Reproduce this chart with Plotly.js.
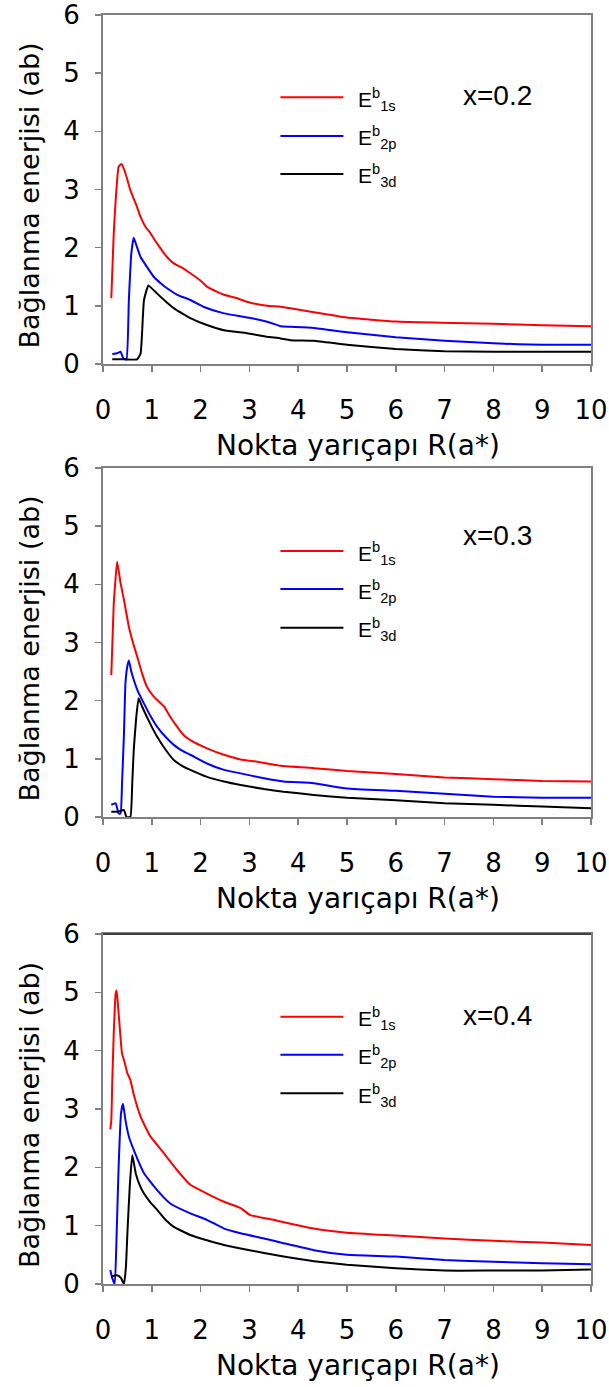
<!DOCTYPE html>
<html>
<head>
<meta charset="utf-8">
<script src="https://cdn.plot.ly/plotly-3.0.1.min.js"></script>
<style>
  html, body { margin: 0; padding: 0; background: #fff; }
  #chart { width: 609px; height: 1387px; }
</style>
</head>
<body>
<div id="chart"></div>
<script>
// Binding energies of 1s, 2p and 3d states versus dot radius R (a*), three compositions x.

const panelLabels = ['x=0.2', 'x=0.3', 'x=0.4'];
const seriesNames = ['E<sup>b</sup><sub>1s</sub>', 'E<sup>b</sup><sub>2p</sub>', 'E<sup>b</sup><sub>3d</sub>'];
const seriesColors = ['#ff0000', '#0000ff', '#000000'];
const xTickLabels = ['0', '1', '2', '3', '4', '5', '6', '7', '8', '9', '10'];
const yTickLabels = ['0', '1', '2', '3', '4', '5', '6'];

// x = 0.2
const r1s_02 = [0.17, 0.22, 0.26, 0.32, 0.38, 0.46, 0.56, 0.67, 0.77, 0.87, 0.97, 1.11, 1.31, 1.45, 1.65, 1.79, 1.99, 2.13, 2.34, 2.48, 2.75, 2.95, 3.36, 3.64, 3.84, 4.32, 5.0, 6.0, 6.92, 8.0, 9.0, 10.0];
const e1s_02 = [1.13, 2.25, 2.82, 3.39, 3.44, 3.28, 2.99, 2.76, 2.53, 2.36, 2.25, 2.07, 1.84, 1.73, 1.64, 1.56, 1.44, 1.33, 1.24, 1.19, 1.13, 1.07, 1.00, 0.985, 0.96, 0.89, 0.80, 0.73, 0.71, 0.69, 0.665, 0.65];
const r2p_02 = [0.19, 0.30, 0.36, 0.42, 0.48, 0.53, 0.58, 0.63, 0.70, 0.77, 0.90, 1.04, 1.18, 1.35, 1.52, 1.79, 2.07, 2.48, 3.02, 3.43, 3.64, 3.84, 4.32, 5.0, 6.0, 7.0, 8.0, 9.0, 10.0];
const e2p_02 = [0.17, 0.19, 0.21, 0.09, 0.08, 1.10, 1.90, 2.17, 2.00, 1.84, 1.67, 1.50, 1.39, 1.28, 1.19, 1.10, 0.98, 0.87, 0.79, 0.71, 0.65, 0.64, 0.62, 0.545, 0.46, 0.40, 0.355, 0.33, 0.33];
const r3d_02 = [0.19, 0.45, 0.70, 0.77, 0.84, 0.93, 1.00, 1.11, 1.28, 1.45, 1.62, 1.79, 2.13, 2.48, 2.95, 3.36, 3.64, 3.84, 4.32, 5.0, 6.0, 7.0, 8.0, 9.0, 10.0];
const e3d_02 = [0.08, 0.08, 0.08, 0.18, 1.10, 1.35, 1.30, 1.21, 1.08, 0.96, 0.87, 0.79, 0.67, 0.58, 0.53, 0.47, 0.44, 0.41, 0.40, 0.33, 0.26, 0.22, 0.21, 0.21, 0.21];

// x = 0.3
const r1s_03 = [0.17, 0.22, 0.26, 0.29, 0.36, 0.43, 0.53, 0.60, 0.70, 0.80, 0.90, 1.04, 1.25, 1.38, 1.52, 1.65, 1.79, 2.13, 2.48, 2.82, 3.16, 3.57, 3.64, 4.32, 5.0, 6.0, 7.0, 8.0, 9.0, 10.0];
const e1s_03 = [2.44, 3.67, 4.13, 4.39, 4.02, 3.73, 3.27, 3.04, 2.76, 2.47, 2.24, 2.07, 1.90, 1.72, 1.55, 1.41, 1.32, 1.18, 1.07, 0.99, 0.95, 0.89, 0.88, 0.84, 0.79, 0.74, 0.68, 0.65, 0.62, 0.61];
const r2p_03 = [0.17, 0.26, 0.32, 0.36, 0.39, 0.43, 0.46, 0.50, 0.53, 0.58, 0.63, 0.72, 0.84, 0.97, 1.11, 1.28, 1.45, 1.62, 1.79, 2.13, 2.48, 2.82, 3.30, 3.70, 4.32, 5.0, 6.0, 7.0, 8.0, 9.0, 10.0];
const e2p_03 = [0.21, 0.235, 0.06, 0.06, 0.58, 1.44, 2.30, 2.60, 2.69, 2.50, 2.36, 2.15, 1.95, 1.74, 1.55, 1.38, 1.24, 1.14, 1.07, 0.92, 0.81, 0.75, 0.665, 0.61, 0.58, 0.49, 0.45, 0.40, 0.35, 0.33, 0.33];
const r3d_03 = [0.17, 0.30, 0.43, 0.48, 0.56, 0.60, 0.63, 0.68, 0.73, 0.80, 0.90, 1.00, 1.11, 1.28, 1.45, 1.62, 1.79, 2.13, 2.48, 2.82, 3.30, 3.70, 4.32, 5.0, 6.0, 7.0, 8.0, 9.0, 10.0];
const e3d_03 = [0.09, 0.09, 0.12, 0.0, 0.0, 0.60, 1.15, 1.70, 2.04, 1.90, 1.72, 1.55, 1.38, 1.16, 0.98, 0.88, 0.81, 0.69, 0.61, 0.55, 0.48, 0.435, 0.38, 0.33, 0.29, 0.235, 0.21, 0.18, 0.15];

// x = 0.4
const r1s_04 = [0.15, 0.17, 0.19, 0.22, 0.26, 0.28, 0.32, 0.39, 0.43, 0.50, 0.56, 0.63, 0.77, 0.90, 0.97, 1.25, 1.52, 1.79, 2.13, 2.48, 2.82, 3.02, 3.50, 3.64, 4.32, 5.0, 6.0, 7.0, 8.0, 9.0, 10.0];
const e1s_04 = [2.65, 2.81, 3.47, 4.30, 4.98, 5.03, 4.64, 3.95, 3.84, 3.61, 3.50, 3.25, 2.87, 2.64, 2.53, 2.24, 1.95, 1.70, 1.55, 1.41, 1.30, 1.18, 1.10, 1.07, 0.95, 0.88, 0.83, 0.78, 0.74, 0.71, 0.67];
const r2p_04 = [0.15, 0.19, 0.24, 0.28, 0.32, 0.37, 0.41, 0.46, 0.53, 0.63, 0.84, 1.11, 1.38, 1.79, 2.13, 2.48, 2.82, 3.30, 3.70, 4.32, 5.0, 6.0, 7.0, 8.0, 9.0, 10.0];
const e2p_04 = [0.24, 0.10, 0.0, 0.87, 2.01, 2.93, 3.09, 2.81, 2.53, 2.30, 1.90, 1.61, 1.38, 1.21, 1.10, 0.95, 0.87, 0.78, 0.70, 0.58, 0.50, 0.47, 0.41, 0.38, 0.355, 0.34];
const r3d_04 = [0.17, 0.29, 0.37, 0.43, 0.47, 0.50, 0.55, 0.60, 0.67, 0.75, 0.84, 0.97, 1.11, 1.28, 1.45, 1.79, 2.13, 2.48, 2.82, 3.30, 3.70, 4.32, 5.0, 6.0, 7.0, 8.0, 9.0, 10.0];
const e3d_04 = [0.13, 0.15, 0.10, 0.0, 0.30, 0.87, 1.70, 2.21, 1.90, 1.70, 1.55, 1.40, 1.27, 1.10, 0.98, 0.84, 0.75, 0.67, 0.61, 0.53, 0.47, 0.39, 0.33, 0.27, 0.23, 0.23, 0.23, 0.25];

const panelSeries = [
  [[r1s_02, e1s_02], [r2p_02, e2p_02], [r3d_02, e3d_02]],
  [[r1s_03, e1s_03], [r2p_03, e2p_03], [r3d_03, e3d_03]],
  [[r1s_04, e1s_04], [r2p_04, e2p_04], [r3d_04, e3d_04]]
];

// Page geometry (px)
const W = 609, H = 1387;
const M = { l: 102.5, r: 18.3, t: 15, b: 103 };
const plotH = H - M.t - M.b;
const plotW = W - M.l - M.r;
const panelTop = [15, 468, 934];
const panelBottom = [364, 817, 1284];

const AXIS_GREY = '#808080';
const axisFont = 'DejaVu Sans, Arial, sans-serif';
const labelFont = 'Liberation Sans, Arial, sans-serif';

const traces = [];
const layout = {
  width: W, height: H,
  margin: M,
  paper_bgcolor: '#ffffff',
  plot_bgcolor: '#ffffff',
  showlegend: false,
  annotations: [],
  shapes: []
};

function xf(px) { return (px - M.l) / plotW; }

for (let p = 0; p < 3; p++) {
  const sfx = p === 0 ? '' : String(p + 1);
  const xa = 'x' + sfx, ya = 'y' + sfx;
  const top = panelTop[p], bot = panelBottom[p];
  const ph = bot - top;
  const yf = py => (bot - py) / ph;

  layout['xaxis' + sfx] = {
    domain: [0, 1],
    anchor: ya,
    range: [0, 10],
    tickmode: 'array',
    tickvals: xTickLabels.map(Number),
    ticktext: xTickLabels,
    ticks: 'outside', ticklen: 6, tickwidth: 1.5, tickcolor: AXIS_GREY,
    ticklabelstandoff: 16,
    showline: true, linecolor: AXIS_GREY, linewidth: 2, mirror: true,
    showgrid: false, zeroline: false,
    tickfont: { family: axisFont, size: 26, color: '#000' }
  };
  layout['yaxis' + sfx] = {
    domain: [(H - M.b - bot) / plotH, (H - M.b - top) / plotH],
    anchor: xa,
    range: [0, 6],
    tickmode: 'array',
    tickvals: yTickLabels.map(Number),
    ticktext: yTickLabels,
    ticks: 'outside', ticklen: 6, tickwidth: 1.5, tickcolor: AXIS_GREY,
    ticklabelstandoff: 10,
    showline: true, linecolor: AXIS_GREY, linewidth: 2, mirror: true,
    showgrid: false, zeroline: false,
    tickfont: { family: axisFont, size: 26, color: '#000' }
  };

  panelSeries[p].forEach((s, i) => {
    traces.push({
      type: 'scatter', mode: 'lines',
      x: s[0], y: s[1],
      xaxis: xa, yaxis: ya,
      name: seriesNames[i],
      line: { color: seriesColors[i], width: 2, shape: 'spline', smoothing: 0.4 },
      hoverinfo: 'skip'
    });
  });

  // axis titles
  layout.annotations.push({
    xref: xa + ' domain', yref: ya + ' domain',
    x: xf(357.5), y: 0, xanchor: 'center', yanchor: 'top', yshift: -63,
    text: 'Nokta yarıçapı R(a*)', showarrow: false,
    font: { family: axisFont, size: 28, color: '#000' }
  });
  layout.annotations.push({
    xref: xa + ' domain', yref: ya + ' domain',
    x: 0, y: 0.5, xanchor: 'center', yanchor: 'middle', xshift: -74, yshift: -6,
    textangle: -90,
    text: 'Bağlanma enerjisi (ab)', showarrow: false,
    font: { family: axisFont, size: 27, color: '#000' }
  });

  // composition label
  const labelY = [96, 535, 1015][p];
  layout.annotations.push({
    xref: xa + ' domain', yref: ya + ' domain',
    x: xf(497), y: yf(labelY), xanchor: 'center', yanchor: 'middle',
    text: panelLabels[p], showarrow: false,
    font: { family: labelFont, size: 28, color: '#000' }
  });

  // key: line samples and state labels
  const rowY = [[97.3, 136, 174], [551, 589, 627.7], [1016.7, 1054.7, 1093.3]][p];
  rowY.forEach((ry, i) => {
    layout.shapes.push({
      type: 'line', xref: xa + ' domain', yref: ya + ' domain',
      x0: xf(280), x1: xf(343), y0: yf(ry), y1: yf(ry),
      line: { color: seriesColors[i], width: 2 }
    });
    layout.annotations.push({
      xref: xa + ' domain', yref: ya + ' domain',
      x: xf(356), y: yf(ry), xanchor: 'left', yanchor: 'middle', yshift: -2,
      text: seriesNames[i], showarrow: false,
      font: { family: labelFont, size: 21, color: '#000' }
    });
  });
}

// darker top edge on the lowest frame
layout.shapes.push({
  type: 'line', xref: 'x3 domain', yref: 'y3 domain',
  x0: 0, x1: 1, y0: 1, y1: 1,
  line: { color: '#404040', width: 2 }
});

Plotly.newPlot('chart', traces, layout, { staticPlot: true, displayModeBar: false });
</script>
</body>
</html>
